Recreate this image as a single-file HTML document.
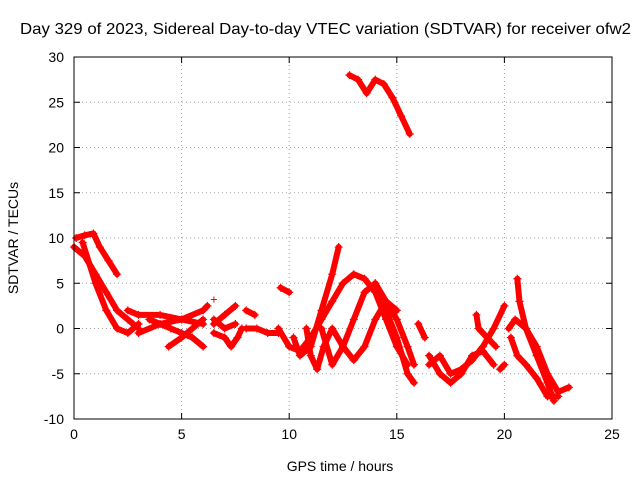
<!DOCTYPE html>
<html><head><meta charset="utf-8"><style>
body{margin:0;background:#fff}
svg{display:block;font-family:"Liberation Sans",sans-serif}
</style></head><body>
<svg id="chart" width="640" height="480">
<text x="20" y="34" font-size="16" textLength="611" lengthAdjust="spacingAndGlyphs">Day 329 of 2023, Sidereal Day-to-day VTEC variation (SDTVAR) for receiver ofw2</text>
<text x="340" y="471" text-anchor="middle" font-size="14">GPS time / hours</text>
<text transform="translate(18,238) rotate(-90)" text-anchor="middle" font-size="14">SDTVAR / TECUs</text>
<g id="grid"></g><g id="ticks"></g><g id="series"></g>
<rect x="74" y="57" width="538" height="362" fill="none" stroke="#000"/>
</svg>
<script>
const xTicks=[0,5,10,15,20,25];
const yTicks=[-10,-5,0,5,10,15,20,25,30];
const track1=[[0,9],[0.5,8],[1,6],[1.5,4],[2,2],[2.5,1],[3,0]];
const track2=[[0.1,10],[0.5,10.3],[0.9,10.5],[1.2,9],[1.6,7.5],[2,6]];
const track3=[[0.4,9.5],[1,5],[1.5,2],[2,0],[2.5,-0.5],[3,0.5]];
const track4=[[2.5,2],[3,1.5],[4,1.5],[5,1],[6,0.5]];
const track5=[[3,-0.5],[4,0.5],[5,1],[6,2],[6.2,2.5]];
const track6=[[3.5,1],[4.5,0],[5,-0.5],[5.5,-1],[6,-2]];
const track7=[[4.4,-2],[5,-1],[5.5,0],[6,1]];
const track8=[[6.5,0.5],[7,1.5],[7.5,2.5]];
const track9=[[6.5,-0.5],[7,-1],[7.3,-2],[7.6,-1],[7.8,0]];
const track10=[[6.5,1],[7,0],[7.5,0.5]];
const track11=[[8,2],[8.4,1.5]];
const track12=[[8,0],[8.5,0],[9,-0.5],[9.5,-0.5]];
const track13=[[9.6,4.5],[10,4]];
const track14=[[9.5,0],[10,-2],[10.5,-2.5],[11,-1],[11.5,1],[12,3],[12.5,5],[13,6],[13.5,5.5],[14,4],[14.5,1],[15,-2],[15.5,-4]];
const track15=[[10.2,-1],[10.5,-3],[11,-2],[11.5,2],[12,6],[12.3,9]];
const track16=[[10.8,0],[11,-3],[11.3,-4.5],[11.6,-2],[12,0],[12.5,-2],[13,-3.5],[13.5,-2],[14,1],[14.5,3],[15,2]];
const track17=[[11.5,0],[12,-4],[12.5,-2],[13,1],[13.5,4],[14,5],[14.5,3],[15,1],[15.5,-2],[15.8,-4]];
const track18=[[14,5],[14.5,2],[15,-1],[15.5,-5],[15.8,-6]];
const track19=[[12.8,28],[13.2,27.5],[13.6,26],[14,27.5],[14.4,27],[14.8,25.5],[15.2,23.5],[15.6,21.5]];
const track20=[[16,0.5],[16.3,-1]];
const track21=[[16.5,-3],[17,-5],[17.5,-6],[18,-5],[18.5,-3],[19,-2.5],[19.5,-4]];
const track22=[[16.5,-4],[17,-3],[17.5,-5],[18,-4.5],[18.5,-3.5],[19,-2],[19.5,0],[20,2.5]];
const track23=[[18.7,1.5],[18.8,0],[19.2,-1],[19.6,-2]];
const track24=[[19.8,-4.5],[20,-4]];
const track25=[[20.2,0],[20.5,1],[21,0],[21.5,-2],[22,-5],[22.5,-7],[23,-6.5]];
const track26=[[20.6,5.5],[20.7,3],[21,0],[21.5,-3],[22,-6],[22.3,-8]];
const track27=[[20.3,-1],[20.6,-3],[21,-4],[21.5,-5.5],[22,-7.5],[22.5,-7.5]];
const tracks=[track1,track2,track3,track4,track5,track6,track7,track8,track9,track10,track11,track12,track13,track14,track15,track16,track17,track18,track19,track20,track21,track22,track23,track24,track25,track26,track27];
const L=74,R=612,T=57,B=419;
function xs(v){return L+(v-0)/(25-0)*(R-L);}
function ys(v){return B-(v+10)/(40)*(B-T);}
const NS="http://www.w3.org/2000/svg";
const grid=document.getElementById('grid'),ticks=document.getElementById('ticks'),ser=document.getElementById('series');
function mk(tag,attrs,parent){const e=document.createElementNS(NS,tag);for(const k in attrs)e.setAttribute(k,attrs[k]);parent.appendChild(e);return e;}
xTicks.forEach(t=>{const x=xs(t);
 if(t>0&&t<25){const g=mk('line',{x1:x,x2:x,y1:T,y2:B,stroke:'#a0a0a0','stroke-dasharray':'1,3'},grid);
 
 }
 mk('line',{x1:x,x2:x,y1:B,y2:B-6,stroke:'#000'},ticks);
 mk('line',{x1:x,x2:x,y1:T,y2:T+6,stroke:'#000'},ticks);
 const tx=mk('text',{x:x,y:B+20,'text-anchor':'middle','font-size':14},ticks);tx.textContent=t;
 
 
});
yTicks.forEach(t=>{const y=ys(t);
 if(t>-10&&t<30){const g=mk('line',{x1:L,x2:R,y1:y,y2:y,stroke:'#a0a0a0','stroke-dasharray':'1,3'},grid);
 
 }
 mk('line',{x1:L,x2:L+6,y1:y,y2:y,stroke:'#000'},ticks);
 mk('line',{x1:R,x2:R-6,y1:y,y2:y,stroke:'#000'},ticks);
 const tx=mk('text',{x:L-10,y:y+5,'text-anchor':'end','font-size':14},ticks);tx.textContent=t;
 
 
});
tracks.forEach((tr,i)=>{
 const p=mk('polyline',{points:tr.map(d=>xs(d[0])+','+ys(d[1])).join(' '),fill:'none',stroke:'#f00','stroke-width':6,'stroke-linejoin':'round','stroke-linecap':'round'},ser);
 
 
 tr.forEach(d=>{const x=xs(d[0]),y=ys(d[1]);
  const m=mk('path',{d:`M${x-4},${y}H${x+4}M${x},${y-4}V${y+4}`,stroke:'#f00','stroke-width':1.2},ser);
  
  
 });
});
const lone=mk('path',{d:`M${xs(6.5)-3},${ys(3.2)}h6M${xs(6.5)},${ys(3.2)-3}v6`,stroke:'#f00'},ser);


</script>
</body></html>
